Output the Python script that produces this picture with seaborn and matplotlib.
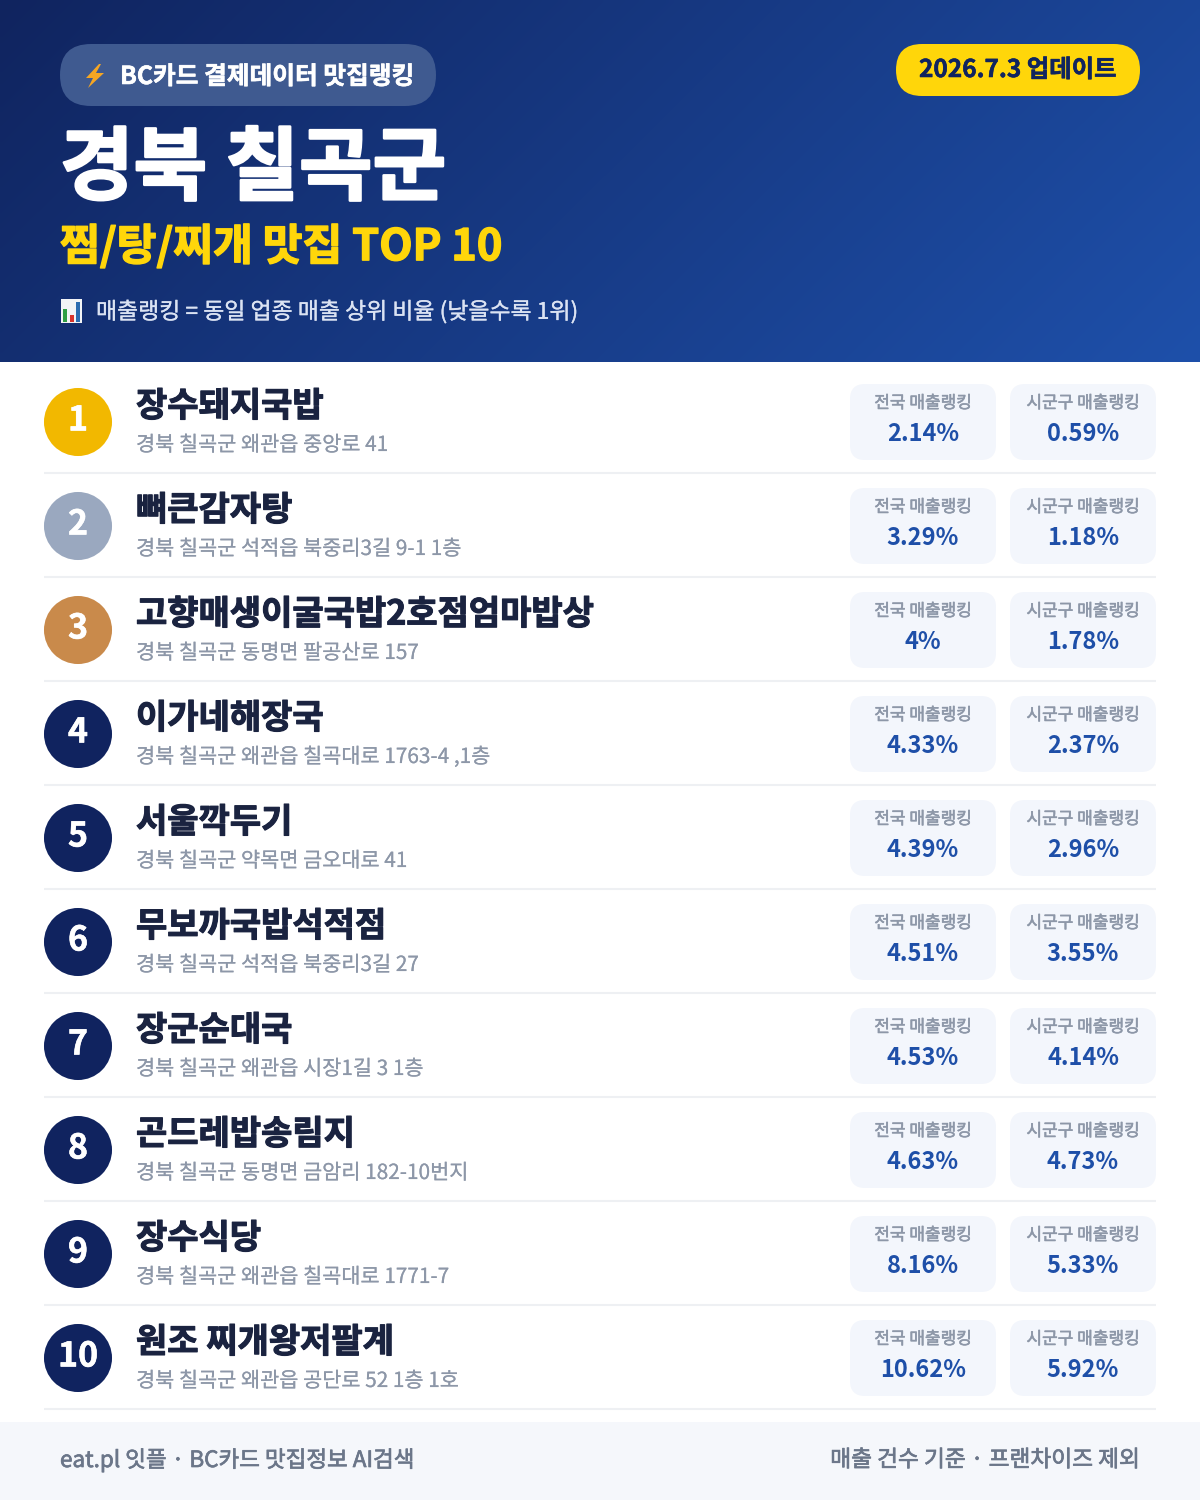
import numpy as np
import pandas as pd
import matplotlib
matplotlib.use("Agg")
import matplotlib.pyplot as plt
import matplotlib.patheffects as pe
from matplotlib.patches import FancyBboxPatch, Rectangle, Polygon
import seaborn as sns

names = ["장수돼지국밥", "뼈큰감자탕", "고향매생이굴국밥2호점엄마밥상", "이가네해장국", "서울깍두기",
         "무보까국밥석적점", "장군순대국", "곤드레밥송림지", "장수식당", "원조 찌개왕저팔계"]
addresses = ["경북 칠곡군 왜관읍 중앙로 41", "경북 칠곡군 석적읍 북중리3길 9-1 1층", "경북 칠곡군 동명면 팔공산로 157",
             "경북 칠곡군 왜관읍 칠곡대로 1763-4 ,1층", "경북 칠곡군 약목면 금오대로 41", "경북 칠곡군 석적읍 북중리3길 27",
             "경북 칠곡군 왜관읍 시장1길 3 1층", "경북 칠곡군 동명면 금암리 182-10번지", "경북 칠곡군 왜관읍 칠곡대로 1771-7",
             "경북 칠곡군 왜관읍 공단로 52 1층 1호"]
national = ["2.14%", "3.29%", "4%", "4.33%", "4.39%", "4.51%", "4.53%", "4.63%", "8.16%", "10.62%"]
local = ["0.59%", "1.18%", "1.78%", "2.37%", "2.96%", "3.55%", "4.14%", "4.73%", "5.33%", "5.92%"]
ranks = list(range(1, 11))
badge_colors = ["#f2b800", "#9aa8bf", "#c98a4b"] + ["#10235f"] * 7

FONT = ["Noto Sans CJK KR", "DejaVu Sans"]
sns.set_theme(style="white")
plt.rcParams["font.family"] = FONT

fig = plt.figure(figsize=(12, 15), dpi=100, facecolor="white")
ax = fig.add_axes([0, 0, 1, 1])
ax.set_xlim(0, 1200)
ax.set_ylim(1500, 0)


def txt(x, y, s, px, color, weight="regular", ha="left", stroke=0.0):
    t = ax.text(x, y, s, fontsize=px * 0.72, color=color, fontweight=weight, ha=ha, va="center", zorder=6)
    if stroke:
        t.set_path_effects([pe.withStroke(linewidth=stroke, foreground=color)])
    return t


def rbox(x0, y0, x1, y1, r, color, z=2):
    ax.add_patch(FancyBboxPatch((x0, y0), x1 - x0, y1 - y0, boxstyle=f"round,pad=0,rounding_size={r}",
                                fc=color, ec="none", zorder=z))


# header gradient
W, H = 1200, 362
xx, yy = np.meshgrid(np.linspace(0, 1, 300), np.linspace(0, 1, 90))
t = (xx * W + yy * H) / (W + H)
c0, c1 = np.array(matplotlib.colors.to_rgb("#10245f")), np.array(matplotlib.colors.to_rgb("#1e50aa"))
ax.imshow(c0 + (c1 - c0) * t[..., None], extent=[0, W, H, 0], aspect="auto", zorder=1, interpolation="bilinear")

rbox(60, 44, 436, 106, 31, "#3f5a90")
ax.add_patch(Polygon([(99, 64), (86, 78), (93, 78), (88, 88), (104, 73), (96, 73), (101, 64)], fc="#f6a623", ec="none", zorder=6))
txt(120, 77, "BC카드 결제데이터 맛집랭킹", 24.7, "white", "bold", stroke=0.4)
rbox(896, 44, 1140, 96, 26, "#ffd60a")
txt(1018, 70, "2026.7.3 업데이트", 24.4, "#10245f", "bold", ha="center", stroke=0.4)
txt(60, 170, "경북 칠곡군", 80, "white", "bold", stroke=1.8)
txt(60, 247, "찜/탕/찌개 맛집 TOP 10", 43.3, "#ffd60a", "bold", stroke=1.0)
# chart icon
ax.add_patch(Rectangle((61, 299), 21, 24, fc="#f2f4f6", ec="none", zorder=6))
ax.add_patch(Rectangle((63, 309), 4, 13, fc="#2f9e44", ec="none", zorder=7))
ax.add_patch(Rectangle((70, 315), 4, 7, fc="#d9342b", ec="none", zorder=7))
ax.add_patch(Rectangle((76, 302), 4, 20, fc="#2b6cb0", ec="none", zorder=7))
txt(96, 312, "매출랭킹 = 동일 업종 매출 상위 비율 (낮을수록 1위)", 22.9, "#dbe3f3", stroke=0.2)

# rows
row_y = [422 + 104 * i for i in range(10)]
df = pd.DataFrame({"x": [78] * 10, "y": row_y, "rank": ranks})
sns.scatterplot(data=df, x="x", y="y", hue="rank", palette=dict(zip(ranks, badge_colors)), s=2400,
                linewidth=0, legend=False, ax=ax, zorder=4)
for i, y in enumerate(row_y):
    txt(78, y - 2, str(ranks[i]), 34, "white", "bold", ha="center", stroke=0.4)
    txt(136, y - 16, names[i], 34, "#1a2340", "bold", stroke=0.8)
    txt(136, y + 23, addresses[i], 20.8, "#8d97a8", stroke=0.1)
    rbox(850, y - 38, 996, y + 38, 15, "#f3f6fc")
    rbox(1010, y - 38, 1156, y + 38, 15, "#f3f6fc")
    txt(923, y - 19, "전국 매출랭킹", 17, "#8d97a8", ha="center", stroke=0.4)
    txt(1083, y - 19, "시군구 매출랭킹", 17, "#8d97a8", ha="center", stroke=0.4)
    txt(923, y + 12, national[i], 23.6, "#1e4fa8", "bold", ha="center")
    txt(1083, y + 12, local[i], 23.6, "#1e4fa8", "bold", ha="center")
    ax.plot([44, 1156], [y + 51, y + 51], color="#eef0f3", lw=1.5, zorder=2, solid_capstyle="butt")

# footer
ax.add_patch(Rectangle((0, 1422), 1200, 78, fc="#f5f7fb", ec="none", zorder=2))
txt(60, 1460, "eat.pl 잇플 · BC카드 맛집정보 AI검색", 22.5, "#6b7689", stroke=0.5)
txt(1140, 1460, "매출 건수 기준 · 프랜차이즈 제외", 22.7, "#6b7689", ha="right", stroke=0.5)

ax.set_xlim(0, 1200)
ax.set_ylim(1500, 0)
ax.axis("off")
fig.savefig("out.png", dpi=100, facecolor="white")
